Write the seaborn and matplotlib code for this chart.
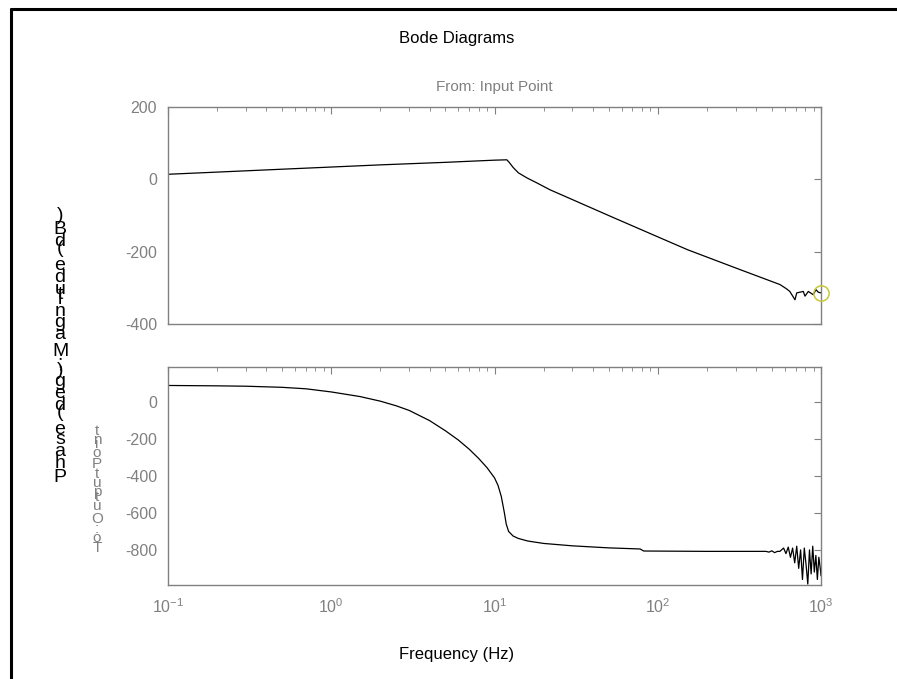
import matplotlib
matplotlib.use("Agg")
import matplotlib.pyplot as plt
from matplotlib.lines import Line2D
from matplotlib.ticker import LogLocator, NullFormatter, FixedLocator
import seaborn as sns
import pandas as pd

# ---------------- data ----------------
mag_freq = [0.1, 0.2, 0.5, 1, 2, 5, 10, 11.9, 12.3, 13.0, 14.0, 15.8, 18.2, 21.9, 30, 50,
            100, 153, 300, 561, 616, 644, 693, 710, 743, 779, 798, 836, 897, 931, 962, 1000]
mag_db = [14, 20, 28, 34, 40, 47, 53, 54, 47, 33, 18, 4, -10, -29, -56, -100,
          -159, -195, -245, -291, -303, -310, -333, -314, -312, -310, -323, -310, -319, -305, -312, -314]

ph_freq = [0.1, 0.2, 0.3, 0.5, 0.7, 1, 1.5, 2, 2.5, 3, 4, 5, 6, 7, 8, 9, 10, 10.5, 11, 11.5,
           11.8, 12.2, 13, 14, 16, 20, 30, 50, 78, 82, 200, 460, 480, 500, 520, 540,
           560, 590, 610, 630, 650, 670, 690, 710, 730, 750, 770, 790, 810, 830, 850,
           870, 890, 910, 930, 950, 970, 990, 1000]
ph_deg = [90, 88, 86, 80, 72, 55, 30, 5, -20, -45, -100, -155, -205, -255, -305, -355, -410, -450, -510, -600,
          -660, -700, -725, -738, -752, -765, -778, -789, -795, -806, -808, -808, -812, -805, -815, -808,
          -808, -790, -820, -785, -840, -790, -870, -780, -900, -800, -960, -790, -880, -985, -800,
          -930, -780, -920, -830, -960, -840, -900, -940]

marker_freq = [1000]
marker_db = [-314]

title_text = "Bode Diagrams"
subtitle_text = "From: Input Point"
xlabel_text = "Frequency (Hz)"
ylabel_text = "Phase (deg); Magnitude (dB)"
output_text = "To: Output Point"

top_yticks = [-400, -200, 0, 200]
bot_yticks = [0, -200, -400, -600, -800]

# ---------------- style ----------------
sns.set_theme(style="white")
plt.rcParams["font.family"] = ["Liberation Sans", "DejaVu Sans"]
plt.rcParams["mathtext.fontset"] = "custom"
plt.rcParams["mathtext.rm"] = "Liberation Sans"
plt.rcParams["mathtext.it"] = "Liberation Sans"
plt.rcParams["mathtext.default"] = "regular"
plt.rcParams["axes.unicode_minus"] = False

W, H = 897, 679
GRAY = "#808080"
fig = plt.figure(figsize=(W / 100, H / 100), dpi=100)
fig.patch.set_facecolor("white")


def px_axes(l, t, r, b):
    return fig.add_axes([l / W, 1 - b / H, (r - l) / W, (b - t) / H])


ax1 = px_axes(168, 107, 821, 324)
ax2 = px_axes(168, 367, 821, 585)

mag_df = pd.DataFrame({"f": mag_freq, "v": mag_db})
ph_df = pd.DataFrame({"f": ph_freq, "v": ph_deg})

sns.lineplot(data=mag_df, x="f", y="v", ax=ax1, color="black", lw=0.9,
             estimator=None, sort=False)
sns.lineplot(data=ph_df, x="f", y="v", ax=ax2, color="black", lw=0.9,
             estimator=None, sort=False)
ax1.plot(marker_freq, marker_db, "o", mfc="none", mec="#c8c83a", ms=11, mew=1.1,
         clip_on=False, zorder=5)

for ax in (ax1, ax2):
    ax.set_xscale("log")
    ax.set_xlim(0.1, 1000)
    ax.set_xlabel("")
    ax.set_ylabel("")
    ax.xaxis.set_major_locator(LogLocator(base=10, numticks=10))
    ax.xaxis.set_minor_locator(LogLocator(base=10, subs=range(2, 10), numticks=50))
    ax.xaxis.set_minor_formatter(NullFormatter())
    ax.tick_params(which="both", direction="in", top=True, right=True,
                   color=GRAY, labelcolor=GRAY, labelsize=11.5)
    ax.tick_params(which="major", length=5, width=0.8, pad=8)
    ax.tick_params(which="minor", length=3, width=0.6)
    for s in ax.spines.values():
        s.set_color(GRAY)
        s.set_linewidth(1.0)
    ax.grid(False)

ax1.set_ylim(-400, 200)
ax1.yaxis.set_major_locator(FixedLocator(top_yticks))
ax1.set_xticklabels([])
ax2.set_ylim(-990, 190)
ax2.yaxis.set_major_locator(FixedLocator(bot_yticks))
ax2.tick_params(axis="x", pad=9)

# ---------------- texts ----------------
fig.text(457 / W, 1 - 38 / H, title_text, ha="center", va="center", fontsize=12, color="black")
fig.text(494 / W, 1 - 87 / H, subtitle_text, ha="center", va="center", fontsize=11, color=GRAY)
fig.text(457 / W, 1 - 655 / H, xlabel_text, ha="center", va="center", fontsize=12, color="black")

ADV = {" ": 278, "(": 333, ")": 333, ";": 278, ":": 278, "B": 667, "M": 833, "P": 667,
       "T": 611, "O": 778, "a": 556, "d": 556, "e": 556, "g": 556, "h": 556, "i": 222,
       "n": 556, "o": 556, "p": 556, "s": 500, "t": 278, "u": 556}


def stacked(text, x_px, y_first, y_last, **kw):
    pos, p = [], 0
    for ch in text:
        pos.append(p)
        p += ADV.get(ch, 556)
    scale = (y_first - y_last) / pos[-1]
    for ch, q in zip(text, pos):
        if ch == " ":
            continue
        y = y_first - q * scale
        fig.text(x_px / W, 1 - y / H, ch, ha="center", va="center", **kw)


stacked(ylabel_text, 60, 477, 216, fontsize=14, color="black")
stacked(output_text, 97, 548, 431, fontsize=11, color=GRAY)

# border of the screenshot
fig.add_artist(Line2D([11 / W, 11 / W], [0, 1 - 9 / H], color="black", lw=2.2,
                      transform=fig.transFigure))
fig.add_artist(Line2D([11 / W, 1], [1 - 9 / H, 1 - 9 / H], color="black", lw=2.2,
                      transform=fig.transFigure))

fig.savefig("out.png", dpi=100, facecolor="white")
